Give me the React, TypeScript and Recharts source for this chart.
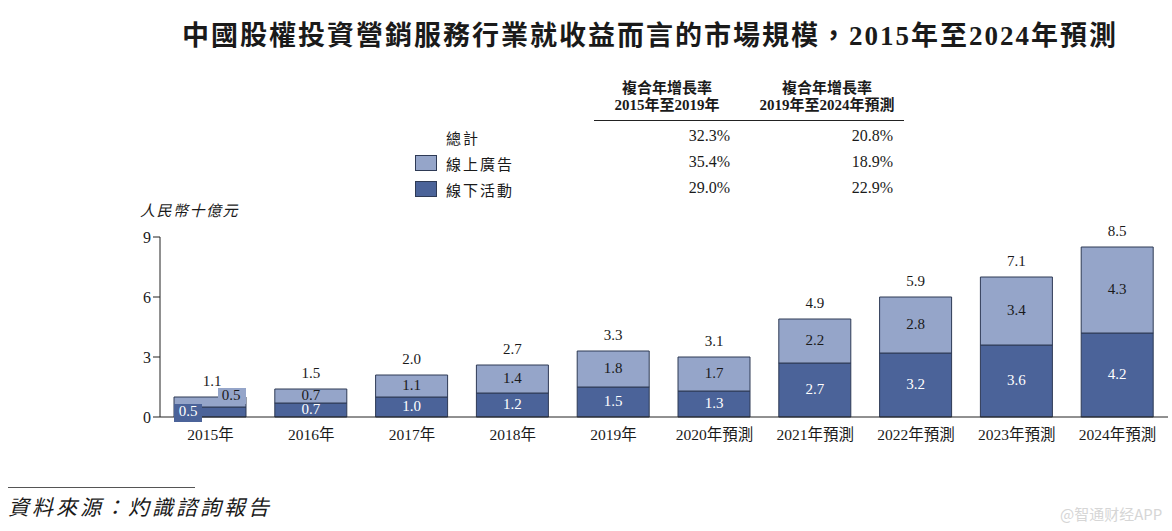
import React from 'react';
import { Bar, BarChart, LabelList, XAxis, YAxis } from 'recharts';

// 中國股權投資營銷服務行業 — 市場規模（人民幣十億元）
const YEARS = ['2015年', '2016年', '2017年', '2018年', '2019年', '2020年預測', '2021年預測', '2022年預測', '2023年預測', '2024年預測'];
const OFFLINE = [0.5, 0.7, 1.0, 1.2, 1.5, 1.3, 2.7, 3.2, 3.6, 4.2]; // 線下活動
const ONLINE = [0.5, 0.7, 1.1, 1.4, 1.8, 1.7, 2.2, 2.8, 3.4, 4.3]; // 線上廣告
const TOTALS = ['1.1', '1.5', '2.0', '2.7', '3.3', '3.1', '4.9', '5.9', '7.1', '8.5'];
const Y_TICKS = [0, 3, 6, 9];

const CAGR_ROWS = [
  { label: '總計', a: '32.3%', b: '20.8%', swatch: '' },
  { label: '線上廣告', a: '35.4%', b: '18.9%', swatch: 'light' },
  { label: '線下活動', a: '29.0%', b: '22.9%', swatch: 'dark' },
];

const LIGHT = '#95a5c9';
const DARK = '#4b6399';
const EDGE = '#2e3a55';
const SERIF = '"Liberation Serif", "Noto Sans CJK TC", serif';
const CJK = '"Liberation Serif", "Noto Sans CJK TC", sans-serif';

const data = YEARS.map((year, i) => ({
  year,
  offline: OFFLINE[i],
  online: ONLINE[i],
  total: TOTALS[i],
}));

function num(v: unknown): number {
  return Number(v ?? 0);
}

// 下段標籤（2015年偏左，帶深色底）
function OfflineLabel(props: any) {
  const { x, y, width, height, index, value } = props;
  const cx = num(x) + num(width) / 2;
  const cy = num(y) + num(height) / 2;
  if (index === 0) {
    const lx = cx - 22;
    return (
      <g>
        <rect x={lx - 14} y={cy - 8} width={28} height={18} fill={DARK} />
        <text x={lx} y={cy + 1} textAnchor="middle" dominantBaseline="middle" fill="#fff" fontSize={15} fontFamily={SERIF}>
          {value.toFixed(1)}
        </text>
      </g>
    );
  }
  return (
    <text x={cx} y={cy + 1} textAnchor="middle" dominantBaseline="middle" fill="#fff" fontSize={15} fontFamily={SERIF}>
      {value.toFixed(1)}
    </text>
  );
}

function OnlineLabel(props: any) {
  const { x, y, width, height, index, value } = props;
  const cx = num(x) + num(width) / 2;
  const cy = num(y) + num(height) / 2;
  if (index === 0) {
    const lx = cx + 21;
    return (
      <g>
        <rect x={lx - 13} y={cy - 14} width={28} height={16} fill={LIGHT} />
        <text x={lx} y={cy - 5} textAnchor="middle" dominantBaseline="middle" fill="#1a1a1a" fontSize={15} fontFamily={SERIF}>
          {value.toFixed(1)}
        </text>
      </g>
    );
  }
  return (
    <text x={cx} y={cy + 1} textAnchor="middle" dominantBaseline="middle" fill="#1a1a1a" fontSize={15} fontFamily={SERIF}>
      {value.toFixed(1)}
    </text>
  );
}

function TotalLabel(props: any) {
  const { x, y, width, index } = props;
  const cx = num(x) + num(width) / 2;
  const dx = index === 0 ? 2 : 0;
  return (
    <text x={cx + dx} y={num(y) - 14} textAnchor="middle" dominantBaseline="middle" fill="#1a1a1a" fontSize={15} fontFamily={SERIF}>
      {TOTALS[index]}
    </text>
  );
}

export default function App() {
  return (
    <div style={{ position: 'absolute', left: 0, top: 0, width: 1172, height: 531, background: '#fff', fontFamily: CJK, color: '#1a1a1a' }}>
      <div style={{ position: 'absolute', left: 100, width: 1100, top: 14, textAlign: 'center', fontSize: 27, fontWeight: 'bold', letterSpacing: 2 }}>
        中國股權投資營銷服務行業就收益而言的市場規模，2015年至2024年預測
      </div>

      {/* 複合年增長率表 */}
      <div style={{ position: 'absolute', left: 594, width: 146, top: 80, textAlign: 'center', fontSize: 15, lineHeight: '17px', fontWeight: 'bold' }}>
        複合年增長率<br />2015年至2019年
      </div>
      <div style={{ position: 'absolute', left: 748, width: 158, top: 80, textAlign: 'center', fontSize: 15, lineHeight: '17px', fontWeight: 'bold' }}>
        複合年增長率<br />2019年至2024年預測
      </div>
      <div style={{ position: 'absolute', left: 594, width: 310, top: 120, height: 0, borderTop: '1.5px solid #222' }} />
      {CAGR_ROWS.map((r, i) => (
        <React.Fragment key={r.label}>
          {r.swatch && (
            <div style={{ position: 'absolute', left: 415, top: 155 + (i - 1) * 26, width: 20, height: 14, background: r.swatch === 'light' ? LIGHT : DARK, border: `1px solid ${EDGE}` }} />
          )}
          <div style={{ position: 'absolute', left: 446, top: 127 + i * 26, fontSize: 15, letterSpacing: 2 }}>{r.label}</div>
          <div style={{ position: 'absolute', left: 630, width: 100, top: 127 + i * 26, textAlign: 'right', fontSize: 16, fontFamily: SERIF }}>{r.a}</div>
          <div style={{ position: 'absolute', left: 793, width: 100, top: 127 + i * 26, textAlign: 'right', fontSize: 16, fontFamily: SERIF }}>{r.b}</div>
        </React.Fragment>
      ))}

      <div style={{ position: 'absolute', left: 140, top: 199, fontSize: 15, fontStyle: 'italic', letterSpacing: 1.5 }}>人民幣十億元</div>

      <div style={{ position: 'absolute', left: 0, top: 0 }}>
        <BarChart width={1172} height={531} data={data} margin={{ top: 237, right: 4, bottom: 84, left: 120 }} barSize={72}>
          <YAxis
            domain={[0, 9]}
            ticks={Y_TICKS}
            width={40}
            interval={0}
            axisLine={{ stroke: '#222' }}
            tickLine={{ stroke: '#222' }}
            tickSize={7}
            tick={{ fill: '#1a1a1a', fontSize: 16, fontFamily: SERIF }}
          />
          <XAxis
            dataKey="year"
            height={30}
            interval={0}
            axisLine={{ stroke: '#222' }}
            tickLine={false}
            tickMargin={6}
            tick={{ fill: '#1a1a1a', fontSize: 15.5, fontFamily: CJK }}
          />
          <Bar dataKey="offline" stackId="s" fill={DARK} stroke={EDGE} strokeWidth={1} isAnimationActive={false}>
            <LabelList dataKey="offline" content={<OfflineLabel />} />
          </Bar>
          <Bar dataKey="online" stackId="s" fill={LIGHT} stroke={EDGE} strokeWidth={1} isAnimationActive={false}>
            <LabelList dataKey="online" content={<OnlineLabel />} />
            <LabelList dataKey="total" content={<TotalLabel />} />
          </Bar>
        </BarChart>
      </div>

      <div style={{ position: 'absolute', left: 8, top: 487, width: 187, height: 0, borderTop: '1.5px solid #555' }} />
      <div style={{ position: 'absolute', left: 8, top: 491, fontSize: 21, fontStyle: 'italic', letterSpacing: 3 }}>資料來源：灼識諮詢報告</div>
      <div style={{ position: 'absolute', left: 1060, top: 503, fontSize: 15, color: '#d6d6d6', fontFamily: '"Noto Sans CJK SC", sans-serif' }}>@智通财经APP</div>
    </div>
  );
}
